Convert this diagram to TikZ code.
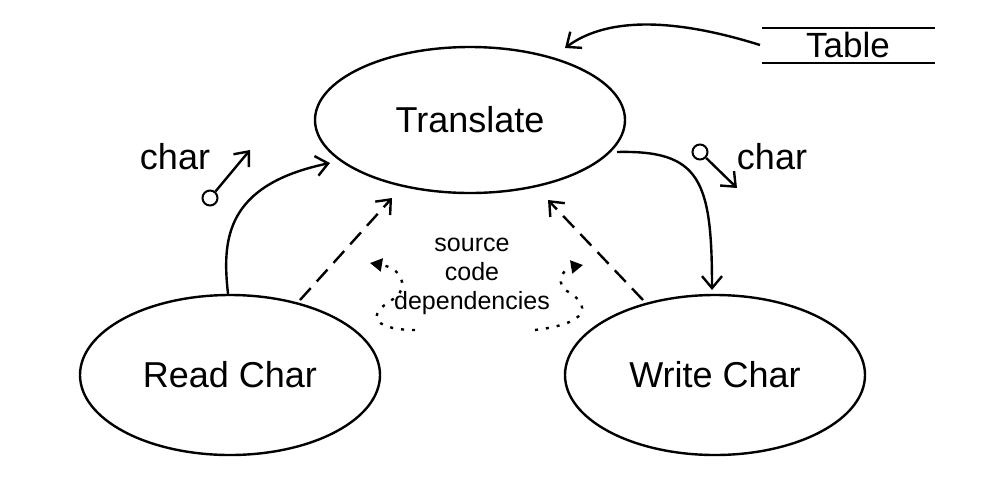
\documentclass[tikz,border=0pt]{standalone}
\usepackage{fontspec}
\setmainfont{Liberation Sans}
\usetikzlibrary{arrows.meta,shapes.geometric}
\begin{document}
\begin{tikzpicture}[x=1pt,y=-1pt,
  el/.style={draw,line width=2.4pt,ellipse,inner sep=0pt},
  ln/.style={line width=2.4pt},
  op/.style={-{Straight Barb[length=12pt,width=20pt]}},
  big/.style={font=\fontsize{36}{40}\selectfont}]
\useasboundingbox (0,0) rectangle (992,488);
\node[el,minimum width=310pt,minimum height=146pt,big] (tr) at (470,120) {Translate};
\node[el,minimum width=300pt,minimum height=160pt,big] (rc) at (230,375) {Read Char};
\node[el,minimum width=300pt,minimum height=160pt,big] (wc) at (715,375) {Write Char};
\node[font=\fontsize{35}{38}\selectfont] (tb) at (848,45) {Table};
\draw[line width=1.6pt] (762,28) -- (935,28) (762,63) -- (935,63);
\coordinate (tbl) at (760,45);
\draw[ln,op] (tbl) .. controls (680,20) and (610,15) .. (565,48);
\node[big] (c1) at (175,157) {char};
\node[draw,circle,line width=2pt,minimum size=15pt,inner sep=0pt] (o1) at (210,198) {};
\draw[ln,op] (o1) -- (250,150);
\node[big] (c2) at (772,157) {char};
\node[draw,circle,line width=2pt,minimum size=15pt,inner sep=0pt] (o2) at (700,152) {};
\draw[ln,op] (o2) -- (737,188);
\draw[ln,op] (rc.north) ++(-2,0) .. controls (222,240) and (225,185) .. (330,163);
\draw[ln,op] (617,152) .. controls (700,150) and (712,180) .. (712,290);
\draw[ln,dash pattern=on 16pt off 9pt,op] (300,300) -- (392,198);
\draw[ln,dash pattern=on 16pt off 9pt,op] (643,300) -- (548,200);
\node[font=\fontsize{25}{29}\selectfont,align=center] (sc) at (472,276) {source\\code\\dependencies};
\draw[line width=2.4pt,dash pattern=on 3pt off 8pt,-{Triangle[length=12pt,width=13pt]}] (415,330) .. controls (380,330) and (360,318) .. (395,298) .. controls (410,285) and (400,268) .. (370,263);
\draw[line width=2.4pt,dash pattern=on 3pt off 8pt,-{Triangle[length=12pt,width=13pt]}] (535,330) .. controls (600,322) and (585,300) .. (565,290) .. controls (555,280) and (565,268) .. (583,265);
\end{tikzpicture}
\end{document}
